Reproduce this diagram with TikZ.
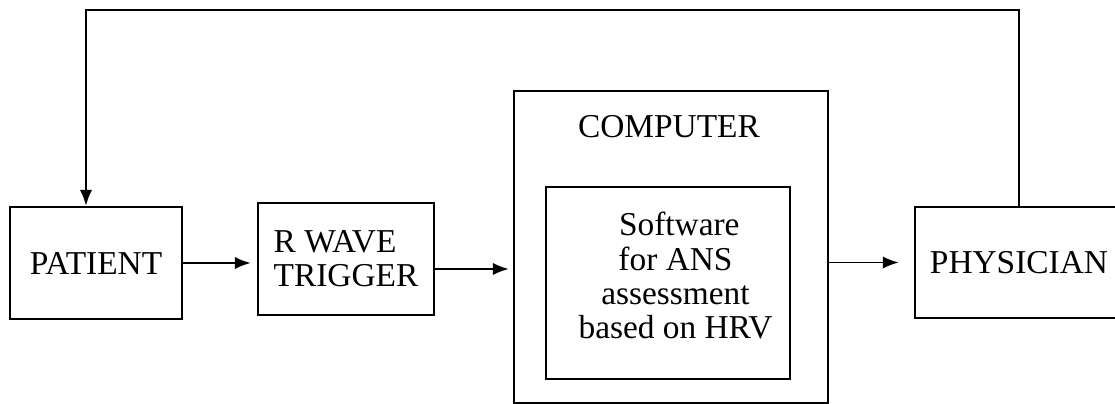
\documentclass[tikz,border=0pt]{standalone}
\usepackage{fontspec}
\setmainfont{Liberation Serif}
\usepackage{tikz}
\usetikzlibrary{shapes, arrows.meta}
\tikzstyle{block} = [ rectangle, draw, line width=1.5pt, text centered, minimum width=3.44cm, minimum height=2.24cm, font=\fontsize{19}{19.5}\selectfont ]
\tikzstyle{line} = [ draw, line width=1pt, -{Latex[length=9pt,width=7pt]} ]
\begin{document}
\begin{tikzpicture}[x=0.02cm, y=-0.02cm, auto]
\clip (0,0) rectangle (1115,404);

% Brief outline
\node [block] (patient) at (96,263) {PATIENT};
\node [block, align=left, minimum width=3.52cm] (rwave) at (346,259) {R WAVE\\TRIGGER};
\node [block, minimum width=6.28cm, minimum height=6.24cm] (computer) at (671,247) {};
\node [font=\fontsize{19}{19.5}\selectfont] (computerlabel) at (669,127) {COMPUTER};
\node [block, line width=1.2pt, align=center, minimum width=4.88cm, minimum height=3.84cm, text depth=0.3cm] (software) at (668,283) {\hspace{0.45cm}Software\\\hspace{0.3cm}for ANS\\\hspace{0.3cm}assessment\\\hspace{0.3cm}based on HRV};
\node [block, minimum width=4.16cm, minimum height=2.22cm] (physician) at (1019,262.5) {PHYSICIAN};
\coordinate (fbtop) at (86,10);

\path [line, shorten >=6*0.02cm] (patient.east) -- (patient.east -| rwave.west);
\path [line, shorten >=4*0.02cm] ([yshift=-0.2cm]rwave.east) -- ([yshift=-0.2cm]rwave.east -| computer.west);
\path [line, shorten >=15*0.02cm] (computer.east |- physician.west) -- (physician.west);
\path [line] (physician.north) |- (fbtop) -- (fbtop |- patient.north);
\end{tikzpicture}
\end{document}
